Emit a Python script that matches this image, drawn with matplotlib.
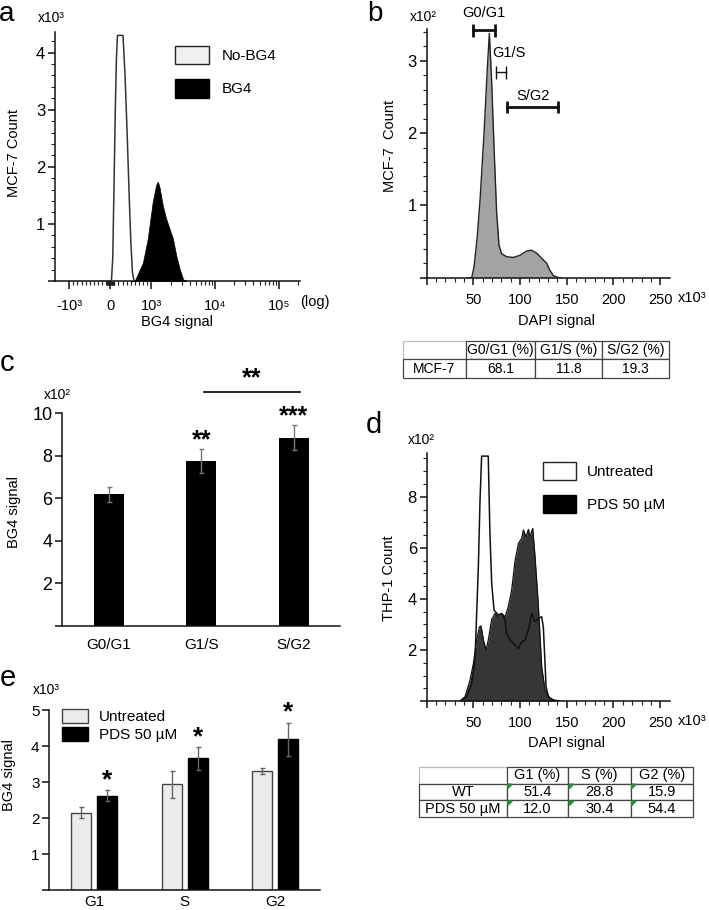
import matplotlib
matplotlib.use('Agg')
import matplotlib.pyplot as plt
import numpy as np
from matplotlib.patches import Patch, Polygon
from matplotlib.ticker import FixedLocator, NullFormatter

plt.rcParams['font.family'] = ['Liberation Sans', 'DejaVu Sans']
plt.rcParams['axes.linewidth'] = 1.1

# ---------------- data ----------------
# panel a (BG4 signal histogram, biexponential axis)
a_nobg4_x = [-300, 0, 30, 60, 90, 120, 150, 175, 310, 360, 410, 460, 500, 540, 580, 700]
a_nobg4_y = [0, 0, 0.02, 0.4, 1.6, 2.9, 3.9, 4.3, 4.3, 3.6, 2.6, 1.5, 0.7, 0.15, 0.0, 0]
a_bg4_x = [500, 595, 794, 913, 1049, 1187, 1261, 1339, 1513, 1711, 1934, 2179, 2469, 2783, 3150, 3560]
a_bg4_y = [0, 0, 0.32, 0.74, 1.38, 1.68, 1.74, 1.65, 1.32, 1.09, 0.91, 0.74, 0.44, 0.21, 0.03, 0]
a_legend = ['No-BG4', 'BG4']
a_xticks = [-1000, 0, 1000, 10000, 100000]
a_xticklabels = ['-10³', '0', '10³', '10⁴', '10⁵']

# panel b (MCF-7 DAPI histogram)
b_x = [44, 48.2, 50.7, 54, 57.1, 61.4, 65.0, 67.1, 69.6, 72.1, 74.9, 77.4, 80.3, 85.6, 92.8,
       99.9, 107, 112.4, 117.7, 123, 128.4, 132, 135.5, 140.9, 145]
b_y = [0, 0, 0.15, 0.55, 1.07, 2.0, 2.92, 3.38, 2.7, 1.8, 0.9, 0.45, 0.33, 0.29, 0.28,
       0.31, 0.37, 0.38, 0.34, 0.27, 0.2, 0.1, 0.03, 0, 0]
b_gates = ['G0/G1', 'G1/S', 'S/G2']
b_gate_lo = [49.3, 73.9, 86.4]
b_gate_hi = [73.5, 85.3, 140.3]
b_gate_y = [3.42, 2.84, 2.36]
b_table_cols = ['', 'G0/G1 (%)', 'G1/S (%)', 'S/G2 (%)']
b_table_rows = [['MCF-7', '68.1', '11.8', '19.3']]

# panel c
c_cats = ['G0/G1', 'G1/S', 'S/G2']
c_vals = [6.18, 7.76, 8.85]
c_errs = [0.37, 0.55, 0.59]
c_stars = ['', '**', '***']
c_bracket_label = '**'

# panel d (THP-1 DAPI histogram)
d_unt_x = [35.7, 42.8, 48.1, 51.7, 55.3, 57.1, 58.8, 65.9, 67.7, 69.6, 72.1, 76.7, 80.3, 83.9,
           85.6, 89.2, 94.6, 98.2, 101.7, 105.3, 108.9, 112.4, 116.0, 119.6, 123.1, 124.9,
           127.8, 130.3, 135.6, 142.7]
d_unt_y = [0, 0.17, 0.69, 1.6, 5.26, 7.87, 9.59, 9.59, 6.56, 4.6, 3.56, 3.37, 3.43, 3.17,
           2.65, 2.39, 2.19, 2.06, 2.32, 2.39, 2.78, 3.43, 3.1, 3.24, 3.3, 2.9,
           0.56, 0.17, 0.04, 0]
d_pds_x = [35.7, 41.0, 46.4, 50.0, 53.5, 56.4, 58.2, 60.7, 63.5, 66.0, 69.6, 73.2, 76.7, 80.3,
           83.9, 87.4, 91.0, 94.6, 98.2, 101.7, 103.5, 106.4, 108.9, 110.6, 113.5, 116.0,
           119.6, 123.1, 126.7, 132.1, 139.2]
d_pds_y = [0, 0.17, 0.82, 1.47, 2.4, 2.9, 2.94, 2.4, 2.0, 2.4, 3.2, 3.43, 3.3, 3.43,
           3.3, 3.7, 4.35, 5.5, 6.17, 6.37, 6.7, 6.43, 6.72, 6.43, 6.76, 5.65,
           3.7, 1.34, 0.43, 0.1, 0]
d_legend = ['Untreated', 'PDS 50 µM']
d_table_cols = ['', 'G1 (%)', 'S (%)', 'G2 (%)']
d_table_rows = [['WT', '51.4', '28.8', '15.9'],
                ['PDS 50 µM', '12.0', '30.4', '54.4']]

# panel e
e_cats = ['G1', 'S', 'G2']
e_untreated = [2.15, 2.94, 3.31]
e_untreated_err = [0.15, 0.37, 0.07]
e_pds = [2.63, 3.66, 4.19]
e_pds_err = [0.14, 0.31, 0.46]
e_stars = ['*', '*', '*']
e_legend = ['Untreated', 'PDS 50 µM']

# ---------------- layout helpers ----------------
W, H = 709, 910
fig = plt.figure(figsize=(W / 100, H / 100), dpi=100)


def add_ax(x0, x1, y0, y1):
    return fig.add_axes([x0 / W, 1 - y1 / H, (x1 - x0) / W, (y1 - y0) / H])


def ftext(x, y, s, **kw):
    kw.setdefault('ha', 'center')
    kw.setdefault('va', 'center')
    kw.setdefault('fontsize', 10)
    return fig.text(x / W, 1 - y / H, s, **kw)


def style(ax, ylab=12):
    for s in ['top', 'right']:
        ax.spines[s].set_visible(False)
    for s in ['left', 'bottom']:
        ax.spines[s].set_color('#111')
    ax.tick_params(which='major', direction='out', length=5, width=1.1, color='#111',
                   labelsize=10.5)
    ax.tick_params(which='minor', direction='out', length=3, width=0.8, color='#222')
    ax.tick_params(axis='y', which='major', labelsize=ylab, pad=2)


def ylabel_at(ax, text, x_px, y_px, ax_box):
    x0, x1, y0, y1 = ax_box
    ax.set_ylabel(text, fontsize=10.5, va='center', ha='center')
    ax.yaxis.set_label_coords((x_px - x0) / (x1 - x0), (y1 - y_px) / (y1 - y0))


def xlabel_at(ax, text, x_px, y_px, ax_box):
    x0, x1, y0, y1 = ax_box
    ax.set_xlabel(text, fontsize=10.5, va='center', ha='center')
    ax.xaxis.set_label_coords((x_px - x0) / (x1 - x0), (y1 - y_px) / (y1 - y0))


def draw_table(box, cols, rows, colw, fs, flags=False):
    tax = add_ax(*box)
    tax.set_axis_off()
    tbl = tax.table(cellText=rows, colLabels=cols, bbox=[0, 0, 1, 1], colWidths=colw,
                    cellLoc='center')
    tbl.auto_set_font_size(False)
    tbl.set_fontsize(fs)
    for (r, c), cell in tbl.get_celld().items():
        cell.set_edgecolor('#444')
        cell.set_linewidth(0.9)
        cell.PAD = 0.02
        if r == 0 and c == 0:
            cell.set_edgecolor('#bbbbbb')
    if flags:
        nrow = len(rows) + 1
        tot = sum(colw)
        xs = np.cumsum([0] + colw) / tot
        bw = (box[1] - box[0])
        bh = (box[3] - box[2])
        dx, dy = 4.5 / bw, 4.5 / bh
        for r in range(1, nrow):
            ytop = 1 - r / nrow
            for c in range(1, len(cols)):
                xl = xs[c] + 1.0 / bw
                tri = Polygon([[xl, ytop - 0.6 / bh], [xl + dx, ytop - 0.6 / bh],
                               [xl, ytop - 0.6 / bh - dy]],
                              closed=True, color='#2e8b3a', transform=tax.transAxes,
                              zorder=5)
                tax.add_patch(tri)
    return tax


# ================= panel a =================
box_a = (55, 300, 32, 281)
axa = add_ax(*box_a)
style(axa)
axa.set_xscale('symlog', linthresh=1000, linscale=0.58)
axa.set_xlim(-1670, 215000)
axa.set_ylim(0, 4.36)
axa.fill_between(a_nobg4_x, a_nobg4_y, color='white', lw=0, zorder=2)
axa.plot(a_nobg4_x, a_nobg4_y, color='#333', lw=1.1, zorder=3)
axa.fill_between(a_bg4_x, a_bg4_y, color='black', lw=0.5, edgecolor='black', zorder=4)
axa.set_xticks(a_xticks)
axa.set_xticklabels(a_xticklabels)
minors = ([-v for v in range(100, 1000, 100)] + [v for v in range(-90, 100, 10)] +
          list(range(100, 1000, 100)) + [m * 1000 for m in range(2, 10)] +
          [m * 10000 for m in range(2, 10)] + [200000])
axa.xaxis.set_minor_locator(FixedLocator(minors))
axa.xaxis.set_minor_formatter(NullFormatter())
axa.tick_params(axis='x', which='major', pad=7, length=6)
axa.set_yticks([0, 1, 2, 3, 4])
axa.set_yticklabels(['', '1', '2', '3', '4'])
axa.yaxis.set_minor_locator(FixedLocator(np.arange(0.2, 4.35, 0.2)))
axa.legend([Patch(facecolor='#efefef', edgecolor='#222', lw=1.0),
            Patch(facecolor='black', edgecolor='black')], a_legend,
           loc='upper left', bbox_to_anchor=(0.49, 0.944), frameon=False, fontsize=11,
           handlelength=2.2, handleheight=1.45, handletextpad=0.85, labelspacing=1.0,
           borderpad=0, borderaxespad=0)
ylabel_at(axa, 'MCF-7 Count', 14, 153, box_a)
xlabel_at(axa, 'BG4 signal', 177, 322, box_a)
ftext(7, 14, 'a', fontsize=20)
ftext(51, 18, 'x10³', fontsize=10)
ftext(315, 302, '(log)', fontsize=10.5)

# ================= panel b =================
box_b = (426.7, 670, 29, 277.7)
axb = add_ax(*box_b)
style(axb)
axb.set_xlim(0, 260.5)
axb.set_ylim(0, 3.44)
axb.fill_between(b_x, b_y, color='#a3a3a3', lw=0, zorder=2)
axb.plot(b_x, b_y, color='#222', lw=1.0, zorder=3)
axb.set_xticks([0, 50, 100, 150, 200, 250])
axb.set_xticklabels(['', '50', '100', '150', '200', '250'])
axb.xaxis.set_minor_locator(FixedLocator(np.arange(10, 260, 10)))
axb.tick_params(axis='x', which='major', pad=6)
axb.set_yticks([0, 1, 2, 3])
axb.set_yticklabels(['', '1', '2', '3'])
axb.yaxis.set_minor_locator(FixedLocator(np.arange(0.2, 3.42, 0.2)))
gate_lw = [2.0, 1.0, 2.0]
gate_cap = [0.085, 0.09, 0.085]
label_dx = [0, 8.8, 0]
label_dy = [0.24, 0.27, 0.15]
for name, lo, hi, y, lw, cp, dx, dy in zip(b_gates, b_gate_lo, b_gate_hi, b_gate_y,
                                            gate_lw, gate_cap, label_dx, label_dy):
    axb.plot([lo, hi], [y, y], color='#111', lw=lw, clip_on=False, zorder=5)
    axb.vlines([lo, hi], y - cp, y + cp, color='#111', lw=lw, clip_on=False, zorder=5)
    axb.text((lo + hi) / 2 + dx, y + dy, name, ha='center', va='center', fontsize=10.5)
ylabel_at(axb, 'MCF-7  Count', 390, 146, box_b)
xlabel_at(axb, 'DAPI signal', 556, 321, box_b)
ftext(375, 14, 'b', fontsize=20)
ftext(423, 17, 'x10²', fontsize=10)
ftext(692, 298, 'x10³', fontsize=10.5)
draw_table((403.3, 669, 340.7, 378.3), b_table_cols, b_table_rows, [62.4, 69.3, 67.3, 66.7],
           fs=10)

# ================= panel c =================
box_c = (62.3, 340, 413.3, 625.8)
axc = add_ax(*box_c)
style(axc, ylab=13)
axc.set_xlim(-0.5, 2.5)
axc.set_ylim(0, 10)
xc = np.arange(len(c_cats))
axc.bar(xc, c_vals, width=0.324, color='black', zorder=2)
axc.errorbar(xc, c_vals, yerr=c_errs, fmt='none', ecolor='#777', elinewidth=1.0,
             capsize=1.8, capthick=1.0, zorder=3)
for xi, v, e, s in zip(xc, c_vals, c_errs, c_stars):
    if s:
        axc.text(xi, v + e - 0.15, s, ha='center', va='bottom', fontsize=18,
                 fontweight='bold', clip_on=False)
axc.plot([1.035, 2.07], [10.99, 10.99], color='black', lw=1.2, clip_on=False)
axc.text(1.55, 11.1, c_bracket_label, ha='center', va='bottom', fontsize=18,
         fontweight='bold')
axc.set_xticks(xc)
axc.set_xticklabels(c_cats)
axc.tick_params(axis='x', which='major', length=0, pad=9, labelsize=11)
axc.set_yticks([0, 2, 4, 6, 8, 10])
axc.set_yticklabels(['', '2', '4', '6', '8', '10'])
ylabel_at(axc, 'BG4 signal', 14, 512, box_c)
ftext(7, 363, 'c', fontsize=21)
ftext(57, 395, 'x10²', fontsize=10)

# ================= panel d =================
box_d = (426.7, 670, 453.3, 701.1)
axd = add_ax(*box_d)
style(axd)
axd.set_xlim(0, 260.5)
axd.set_ylim(0, 9.7)
axd.fill_between(d_unt_x, d_unt_y, color='white', lw=0, zorder=1)
axd.fill_between(d_pds_x, d_pds_y, color='#363636', lw=0, zorder=2)
axd.plot(d_pds_x, d_pds_y, color='#111', lw=0.9, zorder=3)
axd.plot(d_unt_x, d_unt_y, color='#111', lw=1.1, zorder=4)
axd.set_xticks([0, 50, 100, 150, 200, 250])
axd.set_xticklabels(['', '50', '100', '150', '200', '250'])
axd.xaxis.set_minor_locator(FixedLocator(np.arange(10, 260, 10)))
axd.tick_params(axis='x', which='major', pad=6)
axd.set_yticks([0, 2, 4, 6, 8])
axd.set_yticklabels(['', '2', '4', '6', '8'])
axd.yaxis.set_minor_locator(FixedLocator(np.arange(0.5, 9.6, 0.5)))
axd.legend([Patch(facecolor='white', edgecolor='#222', lw=1.0),
            Patch(facecolor='black', edgecolor='black')], d_legend,
           loc='upper left', bbox_to_anchor=(0.479, 0.964), frameon=False, fontsize=11,
           handlelength=2.15, handleheight=1.4, handletextpad=0.7, labelspacing=1.0,
           borderpad=0, borderaxespad=0)
ylabel_at(axd, 'THP-1 Count', 389, 578, box_d)
xlabel_at(axd, 'DAPI signal', 566, 743, box_d)
ftext(374, 425, 'd', fontsize=21)
ftext(421, 440, 'x10²', fontsize=10)
ftext(692, 721, 'x10³', fontsize=10.5)
draw_table((419, 693.3, 766.7, 817.3), d_table_cols, d_table_rows, [87.7, 61.6, 62.4, 62.6],
           fs=10.5, flags=True)

# ================= panel e =================
box_e = (49.3, 320, 710, 890.4)
axe = add_ax(*box_e)
style(axe, ylab=11)
axe.set_xlim(-0.5, 2.5)
axe.set_ylim(0, 5)
xe = np.arange(len(e_cats))
off, bw = 0.144, 0.223
axe.bar(xe - off, e_untreated, width=bw, color='#ebebeb', edgecolor='#444', lw=1.0, zorder=2,
        label=e_legend[0])
axe.bar(xe + off, e_pds, width=bw, color='black', edgecolor='black', lw=1.0, zorder=2,
        label=e_legend[1])
axe.errorbar(xe - off, e_untreated, yerr=e_untreated_err, fmt='none', ecolor='#666',
             elinewidth=1.0, capsize=1.8, capthick=1.0, zorder=3)
axe.errorbar(xe + off, e_pds, yerr=e_pds_err, fmt='none', ecolor='#666',
             elinewidth=1.0, capsize=1.8, capthick=1.0, zorder=3)
for xi, v, e, s in zip(xe + off, e_pds, e_pds_err, e_stars):
    axe.text(xi, v + e - 0.05, s, ha='center', va='bottom', fontsize=19, fontweight='bold',
             clip_on=False)
axe.set_xticks(xe)
axe.set_xticklabels(e_cats)
axe.tick_params(axis='x', which='major', length=0, pad=3, labelsize=11)
axe.set_yticks([0, 1, 2, 3, 4, 5])
axe.set_yticklabels(['', '1', '2', '3', '4', '5'])
axe.legend(loc='upper left', bbox_to_anchor=(0.046, 1.0055), frameon=False, fontsize=11,
           handlelength=1.7, handleheight=1.05, handletextpad=0.75, labelspacing=0.15,
           borderpad=0, borderaxespad=0)
ylabel_at(axe, 'BG4 signal', 9, 775, box_e)
ftext(8, 678, 'e', fontsize=21)
ftext(46, 690, 'x10³', fontsize=10)

fig.savefig('out.png', dpi=100)
